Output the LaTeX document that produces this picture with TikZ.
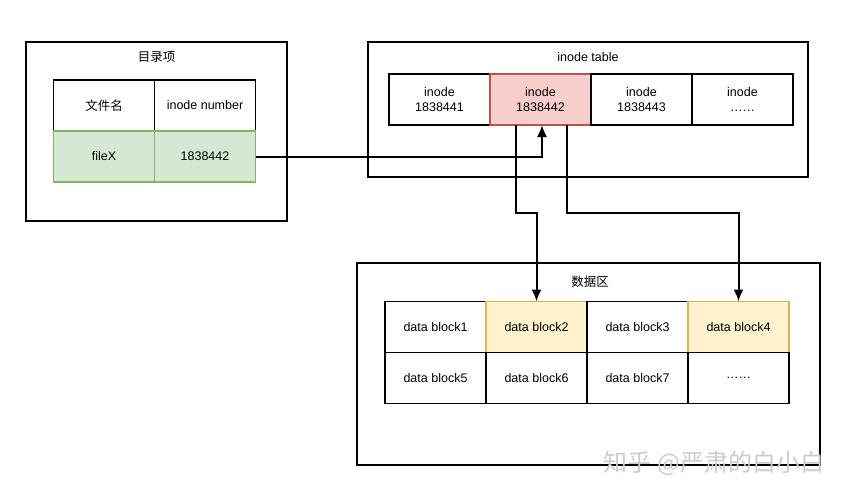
\documentclass[tikz,border=0pt]{standalone}
\usepackage{fontspec}
\setmainfont{Liberation Sans}
\newfontfamily\cjk{Noto Sans CJK SC}
\usepackage{tikz}
\usetikzlibrary{positioning,arrows.meta}
\usepackage{xcolor}

\definecolor{greenfill}{HTML}{D5E8D4}
\definecolor{greenline}{HTML}{82B366}
\definecolor{redfill}{HTML}{F8CECC}
\definecolor{redline}{HTML}{B85450}
\definecolor{yellowfill}{HTML}{FFF2CC}
\definecolor{yellowline}{HTML}{D6B656}

\begin{document}
\begin{tikzpicture}[x=1pt, y=-1pt, node distance=0pt, line width=1.3pt,
    font=\fontsize{12.5}{15}\selectfont,
    frame/.style = {draw, inner sep=0pt, outer sep=0pt},
    cell/.style = {draw, minimum width=101pt, minimum height=51pt, inner sep=0pt, outer sep=0pt, align=center},
    green/.style = {cell, fill=greenfill, draw=greenline},
    red/.style = {cell, fill=redfill, draw=redline},
    yellow/.style = {cell, fill=yellowfill, draw=yellowline},
    arrow/.style = {line width=2pt, -{Latex[length=12pt,width=10pt]}}]
            \useasboundingbox (0,0) rectangle (853,500);
            % 目录项
            \node[frame, minimum width=261pt, minimum height=179pt] (dir) at (156.5,131.5) {};
            \node (dirtitle) at (156.5,57) {\cjk 目录项};
            \node[cell] (name) at (104,105.5) {\cjk 文件名};
            \node[cell] (number) [right=of name] {inode number};
            \node[green] (file) [below=of name] {fileX};
            \node[green] (fileno) [below=of number] {1838442};
            % inode table
            \node[frame, minimum width=440pt, minimum height=135pt] (itable) at (588,109.5) {};
            \node (ititle) at (588,57) {inode table};
            \node[cell] (in1) at (439.5,99.5) {inode\\1838441};
            \node[red] (in2) [right=of in1] {inode\\1838442};
            \node[cell] (in3) [right=of in2] {inode\\1838443};
            \node[cell] (in4) [right=of in3] {inode\\……};
            % 数据区
            \node[frame, minimum width=463pt, minimum height=202pt] (data) at (588.5,364) {};
            \node (dtitle) at (590,282) {\cjk 数据区};
            \node[cell] (db1) at (435.5,327) {data block1};
            \node[yellow] (db2) [right=of db1] {data block2};
            \node[cell] (db3) [right=of db2] {data block3};
            \node[yellow] (db4) [right=of db3] {data block4};
            \node[cell] (db5) [below=of db1] {data block5};
            \node[cell] (db6) [below=of db2] {data block6};
            \node[cell] (db7) [below=of db3] {data block7};
            \node[cell] (db8) [below=of db4] {……};
            % connectors
            \draw[arrow] (fileno.east) -| ([xshift=1.5pt]in2.south);
            \draw[arrow] ([xshift=-24.5pt]in2.south) -- ++(0,88) -| (db2.north);
            \draw[arrow] ([xshift=26.5pt]in2.south) -- ++(0,88) -| (db4.north);
            % watermark
            \node[text=gray!40, font=\cjk\fontsize{24}{26}\selectfont] (mark) at (714,463) {知乎 @严肃的白小白};
        \end{tikzpicture}
\end{document}
